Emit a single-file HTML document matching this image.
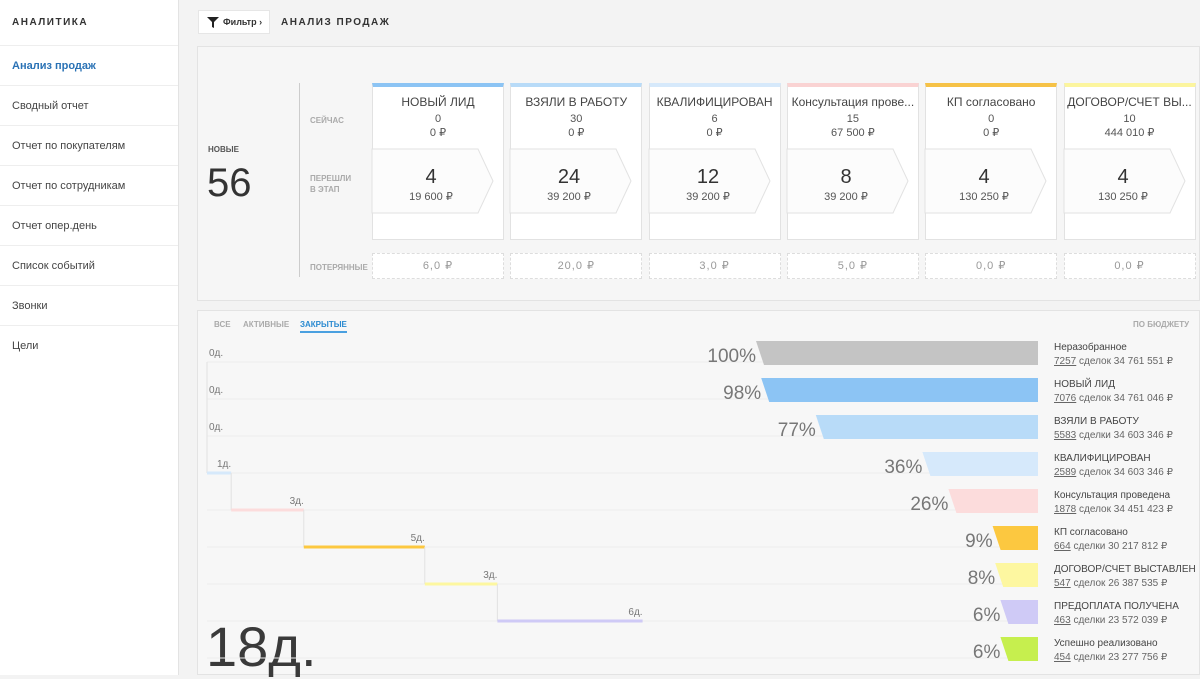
<!DOCTYPE html>
<html><head><meta charset="utf-8"><style>
*{box-sizing:border-box;margin:0;padding:0}
body{width:1200px;height:675px;overflow:hidden;background:#f3f3f3;font-family:"Liberation Sans","DejaVu Sans",sans-serif;color:#333;position:relative}
.abs{position:absolute}
#side{left:0;top:0;width:179px;height:675px;background:#fff;border-right:1px solid #e3e3e3}
.mi{position:absolute;left:0;width:178px;height:40px;border-top:1px solid #eee;font-size:11px;color:#444;padding-left:12px;line-height:40px}
.card{position:absolute;top:83px;width:132px;height:157px;background:#fff;border:1px solid #e2e2e2;border-top-width:4px;text-align:center;font-size:11px;color:#555}
.lost{position:absolute;top:253px;width:132px;height:26px;background:#fff;border:1px dashed #ddd;text-align:center;font-size:11px;color:#999;line-height:24px;letter-spacing:1px}
.lbl{position:absolute;font-size:8px;color:#aaa;font-weight:bold;line-height:11px}
</style></head><body>
<div id="side" class="abs">
<div class="abs" style="left:12px;top:17px;font-size:10px;font-weight:bold;letter-spacing:1.5px;color:#333">АНАЛИТИКА</div>
<div class="mi" style="top:45px;color:#2a72b5;font-weight:bold">Анализ продаж</div>
<div class="mi" style="top:85px">Сводный отчет</div>
<div class="mi" style="top:125px">Отчет по покупателям</div>
<div class="mi" style="top:165px">Отчет по сотрудникам</div>
<div class="mi" style="top:205px">Отчет опер.день</div>
<div class="mi" style="top:245px">Список событий</div>
<div class="mi" style="top:285px">Звонки</div>
<div class="mi" style="top:325px">Цели</div>
</div>
<div class="abs" style="left:198px;top:10px;width:72px;height:24px;background:#fff;border:1px solid #e6e6e6;font-size:9px;font-weight:bold;line-height:22px;padding-left:24px">Фильтр ›
<svg class="abs" style="left:8px;top:6px" width="12" height="11"><path d="M0 0H12L7 5V11L5 10V5Z" fill="#222"/></svg></div>
<div class="abs" style="left:281px;top:17px;font-size:10px;font-weight:bold;letter-spacing:1.5px">АНАЛИЗ ПРОДАЖ</div>

<div class="abs" style="left:197px;top:46px;width:1003px;height:255px;background:#f6f6f6;border:1px solid #e3e3e3"></div>
<div class="lbl" style="left:208px;top:144px;color:#555">НОВЫЕ</div>
<div class="abs" style="left:207px;top:161px;font-size:40px;color:#333">56</div>
<div class="abs" style="left:299px;top:83px;width:1px;height:194px;background:#ccc"></div>
<div class="lbl" style="left:310px;top:115px">СЕЙЧАС</div>
<div class="lbl" style="left:310px;top:173px">ПЕРЕШЛИ<br>В ЭТАП</div>
<div class="lbl" style="left:310px;top:262px">ПОТЕРЯННЫЕ</div>
<div id="cards"></div>

<div class="abs" style="left:197px;top:310px;width:1003px;height:365px;background:#f7f7f7;border:1px solid #e3e3e3"></div>
<div class="abs" style="left:214px;top:320px;font-size:8px;color:#aaa;font-weight:bold">ВСЕ</div>
<div class="abs" style="left:243px;top:320px;font-size:8px;color:#aaa;font-weight:bold">АКТИВНЫЕ</div>
<div class="abs" style="left:300px;top:320px;font-size:8px;color:#2a8ad0;font-weight:bold;border-bottom:2px solid #4aa0e0;padding-bottom:2px">ЗАКРЫТЫЕ</div>
<div class="abs" style="left:1133px;top:320px;font-size:8px;color:#aaa;font-weight:bold">ПО БЮДЖЕТУ</div>
<div class="abs" style="left:206px;top:614px;font-size:56px;color:#3a3a3a">18д.</div>
<svg class="abs" id="fun" style="left:0;top:0" width="1200" height="675"></svg>

<script>
var cardTitles=["НОВЫЙ ЛИД","ВЗЯЛИ В РАБОТУ","КВАЛИФИЦИРОВАН","Консультация прове...","КП согласовано","ДОГОВОР/СЧЕТ ВЫ..."];
var cardNow=["0","30","6","15","0","10"];
var cardNowMoney=["0 ₽","0 ₽","0 ₽","67 500 ₽","0 ₽","444 010 ₽"];
var cardMoved=["4","24","12","8","4","4"];
var cardMovedMoney=["19 600 ₽","39 200 ₽","39 200 ₽","39 200 ₽","130 250 ₽","130 250 ₽"];
var cardLost=["6,0 ₽","20,0 ₽","3,0 ₽","5,0 ₽","0,0 ₽","0,0 ₽"];
var cardColors=["#8cc4f4","#b8dbf8","#d6e9fb","#fad3d3","#f6c247","#fcf59e"];

var stageNames=["Неразобранное","НОВЫЙ ЛИД","ВЗЯЛИ В РАБОТУ","КВАЛИФИЦИРОВАН","Консультация проведена","КП согласовано","ДОГОВОР/СЧЕТ ВЫСТАВЛЕН","ПРЕДОПЛАТА ПОЛУЧЕНА","Успешно реализовано"];
var stagePct=[100,98,77,36,26,9,8,6,6];
var stageDeals=[7257,7076,5583,2589,1878,664,547,463,454];
var stageWord=["сделок","сделок","сделки","сделок","сделок","сделки","сделок","сделки","сделки"];
var stageSum=["34 761 551 ₽","34 761 046 ₽","34 603 346 ₽","34 603 346 ₽","34 451 423 ₽","30 217 812 ₽","26 387 535 ₽","23 572 039 ₽","23 277 756 ₽"];
var stageColors=["#c4c4c4","#8cc4f4","#b8dbf8","#d6e9fb","#fcdcdc","#fcc840","#fdf7a0","#cfcaf6","#c6ef4e"];
var stageDays=[0,0,0,1,3,5,3,6];

var cont=document.getElementById('cards');
var h='';
for(var i=0;i<cardTitles.length;i++){
 var x=372+i*138.3;
 h+='<div class="card" style="left:'+x+'px;border-top-color:'+cardColors[i]+'">'+
 '<div style="margin-top:8px;font-size:12px;color:#444">'+cardTitles[i]+'</div>'+
 '<div style="margin-top:4px">'+cardNow[i]+'</div><div style="margin-top:1px">'+cardNowMoney[i]+'</div></div>';
 h+='<svg class="abs" style="left:'+(x-1)+'px;top:148px" width="124" height="66"><path d="M1 1H107L122 33L107 65H1Z" fill="#fcfcfc" stroke="#e2e2e2"/>'+
 '<text x="60" y="35" text-anchor="middle" font-size="20" fill="#333">'+cardMoved[i]+'</text>'+
 '<text x="60" y="52" text-anchor="middle" font-size="11" fill="#555">'+cardMovedMoney[i]+'</text></svg>';
 h+='<div class="lost" style="left:'+x+'px">'+cardLost[i]+'</div>';
}
cont.innerHTML=h;

var svg=document.getElementById('fun');
var NS='http://www.w3.org/2000/svg';
function rowY(i){return 353+i*37;}
function barW(p){return 22+2.6*p;}
function dayX(d){return d*24.2;}
var right=1038;
function mk(t,a,txt){var e=document.createElementNS(NS,t);for(var k in a)e.setAttribute(k,a[k]);if(txt!=null)e.textContent=txt;svg.appendChild(e);return e;}
for(var i=0;i<stagePct.length;i++){
 var y=rowY(i), w=barW(stagePct[i]), l=right-w;
 var g=mk('line',{x1:207,x2:right,y1:y+9,y2:y+9,stroke:'#eeeeee','stroke-width':1});
 
 var b=mk('path',{d:'M'+l+' '+(y-12)+'H'+right+'V'+(y+12)+'H'+(l+8)+'Z',fill:stageColors[i]});
 
 var t=mk('text',{x:l,y:y+9,'text-anchor':'end','font-size':19,fill:'#777'},stagePct[i]+'%');
 
 var n=mk('text',{x:1054,y:y-3,'font-size':10,fill:'#444'},stageNames[i]);
 
 var s=mk('text',{x:1054,y:y+11,'font-size':10,fill:'#666'},'');
 
 var u=document.createElementNS(NS,'tspan');u.setAttribute('text-decoration','underline');u.textContent=stageDeals[i];s.appendChild(u);
 s.appendChild(document.createTextNode(' '+stageWord[i]+' '+stageSum[i]));
}
var cx=207;
for(var j=0;j<stageDays.length;j++){
 var y=rowY(j)+9, nx=cx+dayX(stageDays[j]);
 if(j>0){var v=mk('line',{x1:cx,x2:cx,y1:y-37,y2:y,stroke:'#e2e2e2'});}
 if(stageDays[j]>0){var sl=mk('line',{x1:cx,x2:nx,y1:y,y2:y,stroke:stageColors[j],'stroke-width':3});}
 var tl=mk('text',{x:Math.max(nx,cx)+ (stageDays[j]>0?0:2),y:y-6,'text-anchor':stageDays[j]>0?'end':'start','font-size':10,fill:'#777'},stageDays[j]+'д.');
 
 cx=nx;
}
</script>
</body></html>
